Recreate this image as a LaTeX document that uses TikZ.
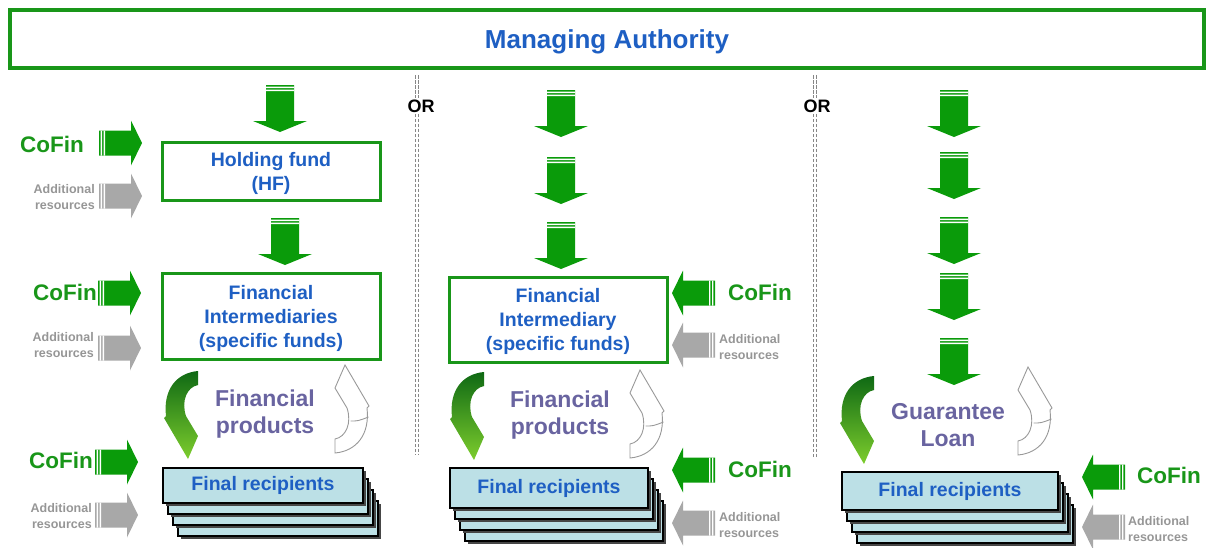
\documentclass[tikz,border=0pt]{standalone}
\usepackage{fontspec}
\setmainfont{Liberation Sans}
\usetikzlibrary{calc}
\definecolor{mgreen}{RGB}{25,150,25}
\definecolor{arrgreen}{RGB}{10,155,10}
\definecolor{arrdark}{RGB}{15,105,20}
\definecolor{arrlite}{RGB}{125,205,45}
\definecolor{mblue}{RGB}{30,95,195}
\definecolor{mpurple}{RGB}{105,100,160}
\definecolor{mgray}{RGB}{150,150,150}
\definecolor{arrgray}{RGB}{168,168,168}
\definecolor{recip}{RGB}{188,224,230}
\definecolor{shadowgray}{RGB}{70,70,70}
\definecolor{sepgray}{RGB}{135,135,135}

\tikzset{
  greenbox/.style={draw=mgreen, line width=3pt, fill=white, text=mblue, align=center, inner sep=0pt,
    text depth=0pt, font=\fontsize{19.5}{24}\selectfont\bfseries},
  recipbox/.style={fill=recip, draw=black, line width=1.2pt},
  recipnode/.style={recipbox, text=mblue, inner sep=0pt, font=\fontsize{19.5}{24}\selectfont\bfseries},
  cofin/.style={text=mgreen, inner sep=0pt, font=\fontsize{22.5}{27}\selectfont\bfseries},
  addres/.style={text=mgray, inner sep=0pt, font=\fontsize{12.5}{15.5}\selectfont\bfseries},
  prodtext/.style={text=mpurple, align=center, inner sep=0pt, font=\fontsize{23}{27}\selectfont\bfseries},
  ortext/.style={inner sep=1pt, font=\fontsize{18}{20}\selectfont\bfseries},
  sepline/.style={draw=sepgray, line width=0.8pt, double=white, double distance=1.6pt, dash pattern=on 3.5pt off 1.5pt},
  greencurl/.style={top color=arrdark, bottom color=arrlite},
  whitecurl/.style={fill=white, draw=gray!80, line width=0.9pt},
  pics/dnarr/.style={code={
    \fill[arrgreen] (-14,0) -- (-14,36) -- (-27,36) -- (0,47) -- (27,36) -- (14,36) -- (14,0) -- cycle;
    \fill[white] (-14,1.6) rectangle (14,3) (-14,4.6) rectangle (14,6);
  }},
  pics/sidearr/.style={code={
    \fill[#1] (0,-12.5) -- (32,-12.5) -- (32,-22.5) -- (43,0) -- (32,22.5) -- (32,12.5) -- (0,12.5) -- cycle;
    \fill[white] (1.6,-12.5) rectangle (3,12.5) (4.6,-12.5) rectangle (6,12.5);
  }},
  pics/curvarr/.style={code={
    \path[#1] (17,-44) .. controls (-5,-42) and (-18,-25) .. (-15,1) -- (-17,3) -- (7,44)
      -- (17,21) -- (5,1) .. controls (0,-14) and (6,-28) .. (17,-30) -- cycle;
  }},
  pics/curvfold/.style={code={
    \draw[gray!80, line width=0.9pt] (1.5,-12) .. controls (-6,-12) .. (-16.5,-8);
  }}
}

\begin{document}
\begin{tikzpicture}[x=1pt, y=-1pt]
  \useasboundingbox (0,0) rectangle (1210,547);

  % Managing authority
  \node[greenbox, line width=3.5pt, minimum width=1194, minimum height=58,
    font=\fontsize{26}{30}\selectfont\bfseries] (ma) at (607,39) {Managing Authority};

  % Separators
  \coordinate (sepAtop) at (417,75);
  \coordinate (sepAbot) at (417,455);
  \node[ortext] (orA) at (421,106) {OR};
  \draw[sepline] (sepAtop) -- (sepAtop |- orA.north);
  \draw[sepline] (sepAtop |- orA.south) -- (sepAbot);
  \coordinate (sepBtop) at (815,75);
  \coordinate (sepBbot) at (815,457);
  \node[ortext] (orB) at (817,106) {OR};
  \draw[sepline] (sepBtop) -- (sepBtop |- orB.north);
  \draw[sepline] (sepBtop |- orB.south) -- (sepBbot);

  % Column 1: holding fund
  \pic at (280,85) {dnarr};
  \node[greenbox, minimum width=218, minimum height=58] (hf) at (271,171) {Holding fund\\(HF)};
  \pic at (285,218) {dnarr};
  \node[greenbox, minimum width=218, minimum height=86] (fiA) at (271,316) {Financial\\Intermediaries\\(specific funds)};
  \node[cofin, anchor=base east] (cfA1) at (84,152) {CoFin};
  \pic at (99,143) {sidearr=arrgreen};
  \node[addres, anchor=east, align=right] (adA1) at (95,197) {Additional\\resources};
  \pic at (99,196) {sidearr=arrgray};
  \node[cofin, anchor=base east] (cfA2) at (97,300) {CoFin};
  \pic at (98,293) {sidearr=arrgreen};
  \node[addres, anchor=east, align=right] (adA2) at (94,345) {Additional\\resources};
  \pic at (98,348) {sidearr=arrgray};
  \node[cofin, anchor=base east] (cfA3) at (93,468) {CoFin};
  \pic at (95,462) {sidearr=arrgreen};
  \node[addres, anchor=east, align=right] (adA3) at (92,516) {Additional\\resources};
  \pic at (95,515) {sidearr=arrgray};
  \pic at (181,415) {curvarr=greencurl};
  \pic[rotate=180] at (352,409) {curvarr=whitecurl};
  \pic[rotate=180] at (352,409) {curvfold};
  \node[prodtext] (prA) at (265,414) {Financial\\products};

  % Column 2: financial intermediary
  \foreach \ty in {90,157,222} \pic at (561,\ty) {dnarr};
  \node[greenbox, minimum width=218, minimum height=85] (fiB) at (558,319.5) {Financial\\Intermediary\\(specific funds)};
  \pic[xscale=-1] at (715,293) {sidearr=arrgreen};
  \node[cofin, anchor=base west] (cfB1) at (728,300) {CoFin};
  \pic[xscale=-1] at (715,345) {sidearr=arrgray};
  \node[addres, anchor=west, align=left] (adB1) at (719,347) {Additional\\resources};
  \pic[xscale=-1] at (715,470) {sidearr=arrgreen};
  \node[cofin, anchor=base west] (cfB2) at (728,477) {CoFin};
  \pic[xscale=-1] at (715,523) {sidearr=arrgray};
  \node[addres, anchor=west, align=left] (adB2) at (719,525) {Additional\\resources};
  \pic at (467,416) {curvarr=greencurl};
  \pic[rotate=180] at (647,414) {curvarr=whitecurl};
  \pic[rotate=180] at (647,414) {curvfold};
  \node[prodtext] (prB) at (560,415) {Financial\\products};

  % Column 3: guarantee
  \foreach \ty in {90,152,217,273,338} \pic at (954,\ty) {dnarr};
  \pic at (857,420) {curvarr=greencurl};
  \pic[rotate=180] at (1035,411) {curvarr=whitecurl};
  \pic[rotate=180] at (1035,411) {curvfold};
  \node[prodtext] (prC) at (948,425) {Guarantee\\Loan};
  \pic[xscale=-1] at (1125,477) {sidearr=arrgreen};
  \node[cofin, anchor=base west] (cfC1) at (1137,483) {CoFin};
  \pic[xscale=-1] at (1125,527) {sidearr=arrgray};
  \node[addres, anchor=west, align=left] (adC1) at (1128,529) {Additional\\resources};

  % Final recipients stacks
  \foreach \cx/\cy/\w/\h/\nm in {263/485.5/200/35/recA, 549/488/198/40/recB, 950/491/216/38/recC} {
    \foreach \k in {3,2,1} {
      \fill[shadowgray] ({\cx-\w/2+5*\k+3},{\cy-\h/2+11*\k+3}) rectangle ++(\w,\h);
      \draw[recipbox] ({\cx-\w/2+5*\k},{\cy-\h/2+11*\k}) rectangle ++(\w,\h);
    }
    \fill[shadowgray] ({\cx-\w/2+3},{\cy-\h/2+3}) rectangle ++(\w,\h);
    \node[recipnode, minimum width=\w, minimum height=\h] (\nm) at (\cx,\cy) {Final recipients};
  }
\end{tikzpicture}
\end{document}
